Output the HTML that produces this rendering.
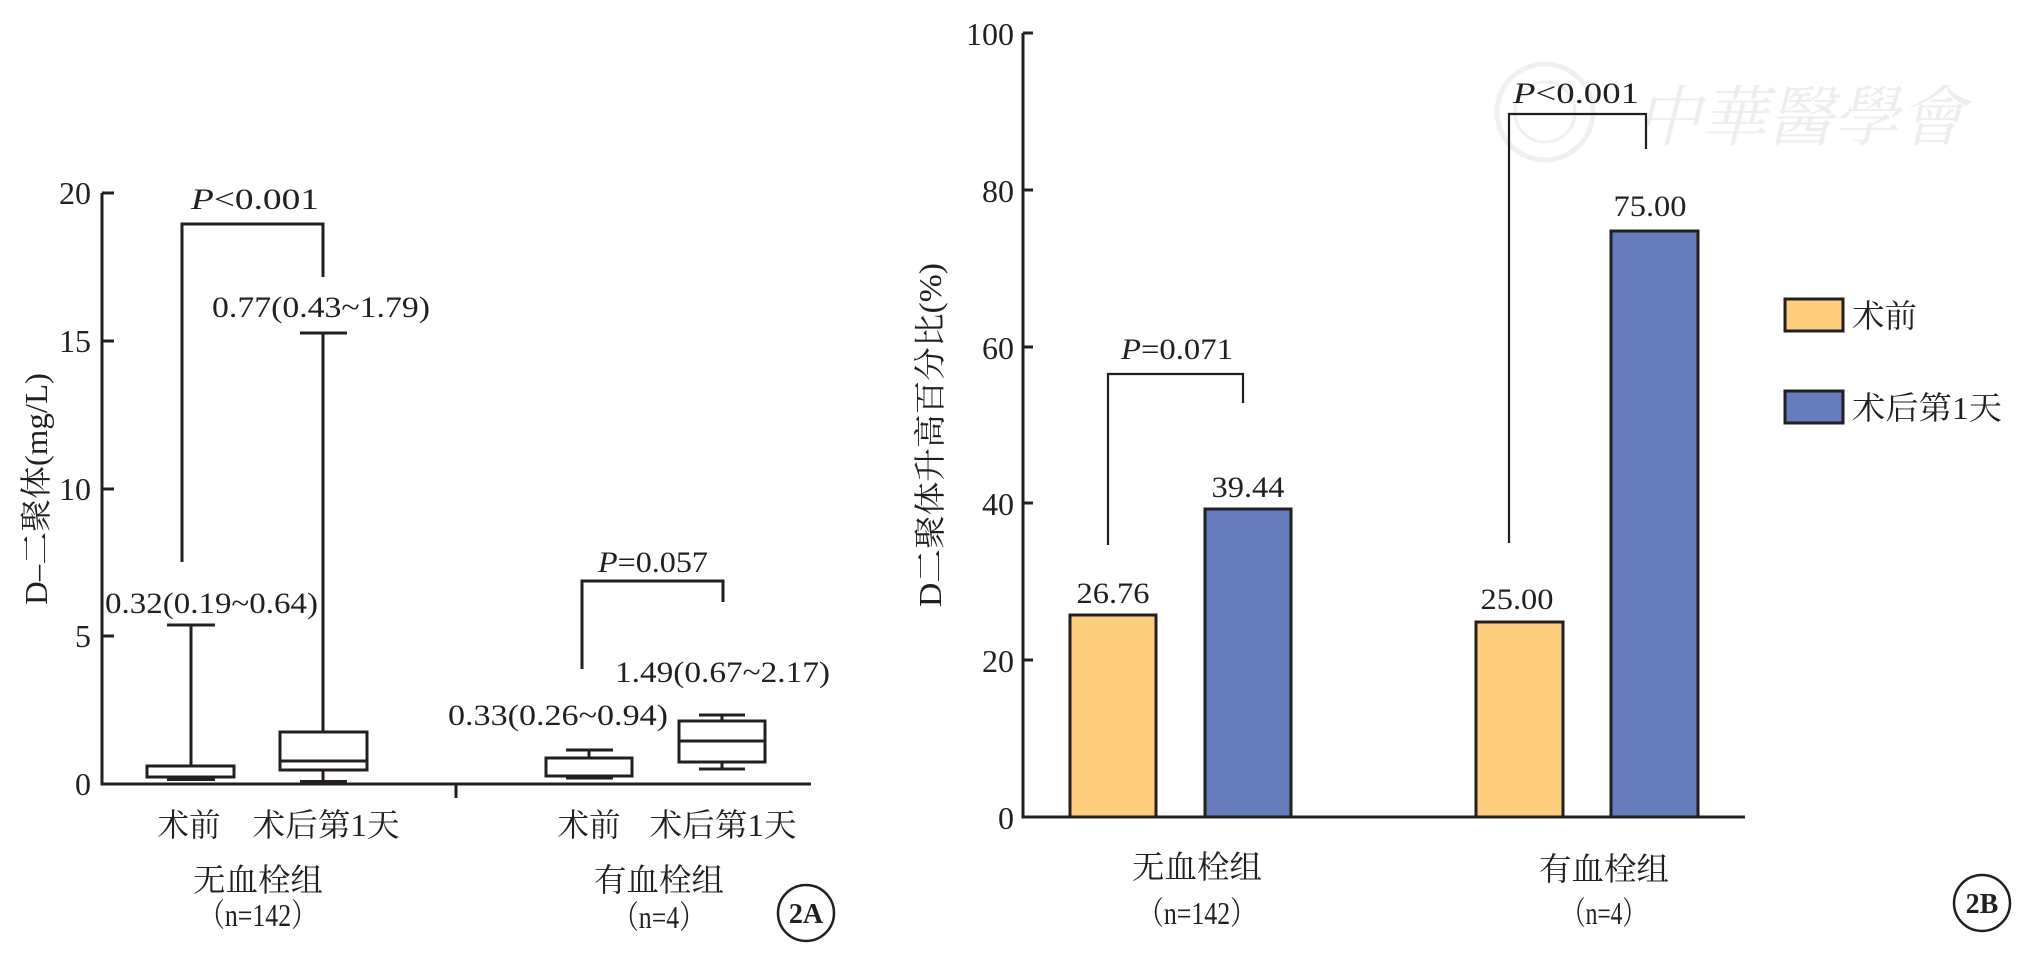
<!DOCTYPE html>
<html><head><meta charset="utf-8"><style>
html,body{margin:0;padding:0;background:#fff;}
svg{display:block;}
text{font-family:"Liberation Serif","Noto Serif CJK SC","Noto Sans CJK SC",serif;fill:#231f20;}
</style></head><body>
<svg width="2028" height="957" viewBox="0 0 2028 957" xmlns="http://www.w3.org/2000/svg">
<g opacity="0.12">
<circle cx="1545" cy="112" r="48" fill="none" stroke="#888" stroke-width="5"/>
<circle cx="1545" cy="112" r="30" fill="none" stroke="#888" stroke-width="3"/>
<text x="1800" y="140" font-size="66" font-style="italic" text-anchor="middle" style="fill:#777" textLength="330" lengthAdjust="spacingAndGlyphs">中華醫學會</text>
</g>

<g stroke="#231f20" stroke-width="3" fill="none">
<line x1="102" y1="193" x2="102" y2="785.5"/>
<line x1="100.5" y1="784" x2="811" y2="784"/>
<line x1="102" y1="193" x2="114" y2="193"/>
<line x1="102" y1="341" x2="114" y2="341"/>
<line x1="102" y1="489" x2="114" y2="489"/>
<line x1="102" y1="636" x2="114" y2="636"/>
<line x1="456" y1="784" x2="456" y2="798"/>
<polyline points="182,562 182,224 323,224 323,277"/>
<polyline points="582,669 582,581 723,581 723,602"/>
<line x1="191" y1="625" x2="191" y2="766"/>
<line x1="167" y1="625" x2="215" y2="625"/>
<rect x="147" y="766" width="87" height="11"/>
<line x1="167" y1="779" x2="215" y2="779" stroke-width="4"/>
<line x1="323" y1="333" x2="323" y2="732"/>
<line x1="300" y1="333" x2="347" y2="333"/>
<rect x="280" y="732" width="87" height="38"/>
<line x1="280" y1="761" x2="367" y2="761"/>
<line x1="323" y1="770" x2="323" y2="782"/>
<line x1="300" y1="782" x2="347" y2="782" stroke-width="4"/>
<line x1="589" y1="750" x2="589" y2="758"/>
<line x1="566" y1="750" x2="613" y2="750"/>
<rect x="546" y="758" width="86" height="18"/>
<line x1="566" y1="778" x2="613" y2="778" stroke-width="3"/>
<line x1="722" y1="715" x2="722" y2="721"/>
<line x1="699" y1="715" x2="745" y2="715"/>
<rect x="679" y="721" width="86" height="41"/>
<line x1="679" y1="741" x2="765" y2="741"/>
<line x1="722" y1="762" x2="722" y2="769"/>
<line x1="699" y1="769" x2="745" y2="769"/>
<circle cx="806" cy="913" r="28" stroke-width="2.5"/>
</g>
<g font-size="32">
<text x="91" y="204" text-anchor="end">20</text>
<text x="91" y="352" text-anchor="end">15</text>
<text x="91" y="500" text-anchor="end">10</text>
<text x="91" y="647" text-anchor="end">5</text>
<text x="91" y="795" text-anchor="end">0</text>
</g>
<g font-size="30">
<text x="255" y="209" text-anchor="middle" textLength="128" lengthAdjust="spacingAndGlyphs"><tspan font-style="italic">P</tspan>&lt;0.001</text>
<text x="653" y="572" text-anchor="middle" textLength="110" lengthAdjust="spacingAndGlyphs"><tspan font-style="italic">P</tspan>=0.057</text>
<text x="212" y="317" textLength="218" lengthAdjust="spacingAndGlyphs">0.77(0.43~1.79)</text>
<text x="105" y="613" textLength="213" lengthAdjust="spacingAndGlyphs">0.32(0.19~0.64)</text>
<text x="448" y="725" textLength="220" lengthAdjust="spacingAndGlyphs">0.33(0.26~0.94)</text>
<text x="615" y="682" textLength="215" lengthAdjust="spacingAndGlyphs">1.49(0.67~2.17)</text>
</g>
<g font-size="32" text-anchor="middle">
<text x="189" y="836" textLength="63" lengthAdjust="spacingAndGlyphs">术前</text>
<text x="326" y="836" textLength="147" lengthAdjust="spacingAndGlyphs">术后第1天</text>
<text x="589" y="836" textLength="63" lengthAdjust="spacingAndGlyphs">术前</text>
<text x="723" y="836" textLength="147" lengthAdjust="spacingAndGlyphs">术后第1天</text>
<text x="258" y="891" textLength="130" lengthAdjust="spacingAndGlyphs">无血栓组</text>
<text x="258" y="926" textLength="118" lengthAdjust="spacingAndGlyphs">（n=142）</text>
<text x="659" y="891" textLength="130" lengthAdjust="spacingAndGlyphs">有血栓组</text>
<text x="659" y="928" textLength="92" lengthAdjust="spacingAndGlyphs">（n=4）</text>
<text x="806" y="923" font-size="28" font-weight="bold">2A</text>
<text transform="translate(47,489) rotate(-90)" textLength="232" lengthAdjust="spacingAndGlyphs">D–二聚体(mg/L)</text>
</g>

<g stroke="#231f20" stroke-width="3">
<rect x="1070" y="615" width="86" height="202" fill="#fdcd7d"/>
<rect x="1205" y="509" width="86" height="308" fill="#657bbc"/>
<rect x="1476" y="622" width="87" height="195" fill="#fdcd7d"/>
<rect x="1611" y="231" width="87" height="586" fill="#657bbc"/>
<rect x="1785" y="299" width="58" height="32" fill="#fdcd7d"/>
<rect x="1785" y="391" width="58" height="32" fill="#657bbc"/>
</g>
<g stroke="#231f20" stroke-width="3" fill="none">
<line x1="1023" y1="33" x2="1023" y2="818.5"/>
<line x1="1021.5" y1="817" x2="1745" y2="817"/>
<line x1="1023" y1="33" x2="1033" y2="33"/>
<line x1="1023" y1="190" x2="1033" y2="190"/>
<line x1="1023" y1="347" x2="1033" y2="347"/>
<line x1="1023" y1="503" x2="1033" y2="503"/>
<line x1="1023" y1="660" x2="1033" y2="660"/>
<polyline points="1108,545 1108,374 1243,374 1243,403" stroke-width="2.2"/>
<polyline points="1509,543 1509,114 1646,114 1646,149" stroke-width="2.2"/>
<circle cx="1982" cy="903" r="28" stroke-width="2.5"/>
</g>
<g font-size="32">
<text x="1014" y="45" text-anchor="end">100</text>
<text x="1014" y="202" text-anchor="end">80</text>
<text x="1014" y="359" text-anchor="end">60</text>
<text x="1014" y="515" text-anchor="end">40</text>
<text x="1014" y="672" text-anchor="end">20</text>
<text x="1014" y="829" text-anchor="end">0</text>
</g>
<g font-size="30">
<text x="1177" y="359" text-anchor="middle" textLength="112" lengthAdjust="spacingAndGlyphs"><tspan font-style="italic">P</tspan>=0.071</text>
<text x="1576" y="103" text-anchor="middle" textLength="126" lengthAdjust="spacingAndGlyphs"><tspan font-style="italic">P</tspan>&lt;0.001</text>
<text x="1113" y="603" text-anchor="middle" textLength="73" lengthAdjust="spacingAndGlyphs">26.76</text>
<text x="1248" y="497" text-anchor="middle" textLength="73" lengthAdjust="spacingAndGlyphs">39.44</text>
<text x="1517" y="609" text-anchor="middle" textLength="73" lengthAdjust="spacingAndGlyphs">25.00</text>
<text x="1650" y="216" text-anchor="middle" textLength="73" lengthAdjust="spacingAndGlyphs">75.00</text>
</g>
<g font-size="32">
<text x="1852" y="327" textLength="65" lengthAdjust="spacingAndGlyphs">术前</text>
<text x="1852" y="419" textLength="150" lengthAdjust="spacingAndGlyphs">术后第1天</text>
<text x="1197" y="878" text-anchor="middle" textLength="130" lengthAdjust="spacingAndGlyphs">无血栓组</text>
<text x="1197" y="924" text-anchor="middle" textLength="118" lengthAdjust="spacingAndGlyphs">（n=142）</text>
<text x="1604" y="880" text-anchor="middle" textLength="130" lengthAdjust="spacingAndGlyphs">有血栓组</text>
<text x="1604" y="924" text-anchor="middle" textLength="84" lengthAdjust="spacingAndGlyphs">（n=4）</text>
<text x="1982" y="913" text-anchor="middle" font-size="28" font-weight="bold">2B</text>
<text transform="translate(941,435) rotate(-90)" text-anchor="middle" textLength="344" lengthAdjust="spacingAndGlyphs">D二聚体升高百分比(%)</text>
</g>
</svg>
</body></html>
